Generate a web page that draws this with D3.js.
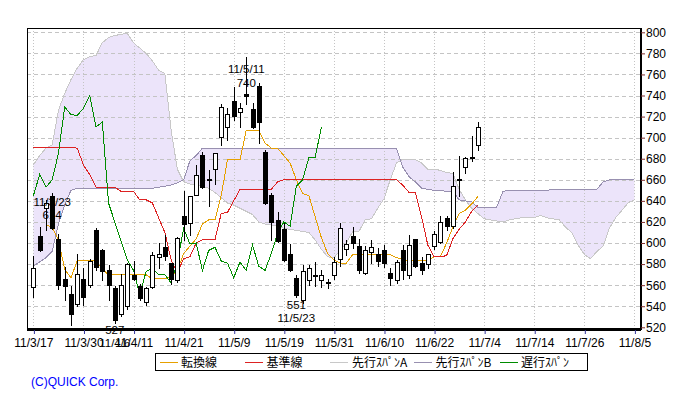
<!DOCTYPE html>
<html><head><meta charset="utf-8">
<script src="https://cdn.jsdelivr.net/npm/d3@7"></script>
<style>body{margin:0;background:#fff}svg{display:block}</style>
</head><body><svg id="c" width="680" height="400"></svg>
<script>
// ---- data ----
const tickLabels = ["11/3/17","11/3/30","11/4/11","11/4/21","11/5/9","11/5/19","11/5/31","11/6/10","11/6/22","11/7/4","11/7/14","11/7/26","11/8/5"];
const tickIndex = [0,8,16,24,32,40,48,56,64,72,80,88,96];
const yTicks = [520,540,560,580,600,620,640,660,680,700,720,740,760,780,800];

const opens  = [558,607,633,645,604,566,552,542,566,560,612,593,574,557,533,540,570,559,544,558,587,596,581,565,626,619,646,684,661,670,701,710,735,724,741,727,749,686,646,622,613,590,567,546,565,569,565,563,570,585,594,607,597,572,591,590,593,572,565,593,570,604,581,580,597,601,624,616,661,672,682,693];
const highs  = [588,615,641,647,609,577,559,590,576,585,614,594,579,559,571,581,583,561,558,591,600,608,581,606,649,645,674,686,669,685,732,728,748,733,777,733,752,688,647,629,619,599,570,579,579,582,574,566,587,619,603,615,604,597,603,595,598,576,584,598,608,604,587,590,611,626,626,667,683,682,702,715];
const lows   = [549,592,612,613,556,546,522,540,541,558,574,565,546,524,531,537,565,546,541,557,576,584,561,563,603,608,646,652,635,656,693,698,717,710,732,709,695,637,603,601,583,573,549,543,560,559,558,557,566,578,589,595,572,571,581,578,577,560,562,566,567,577,571,576,594,600,612,614,645,666,678,688];
const closes = [576,593,638,614,560,559,533,571,549,583,577,573,560,527,560,580,566,548,557,589,590,588,566,605,618,645,665,653,660,685,729,722,721,728,740,710,715,638,620,602,584,574,551,573,576,570,570,562,582,614,599,600,574,593,596,583,581,567,582,574,598,578,574,590,609,620,616,654,660,681,681,710];

const tenkan = [null,null,617,615,603,575,567,583,583,583,583,575,570,570,570,570,570,570,570,566,566,566,568,574,590,597,604,618,622,622,645,679,679,679,707,707,707,695,690,690,683,676,660,647,645,625,605,590,584,581,581,589,589,589,589,589,589,589,586,585,583,583,583,583,587,587,600,615,628,631,637,644];
const kijun  = [691,691,691,691,691,691,691,690,674,665,653,653,653,653,649,649,649,641,641,638,624,610,584,572,585,587,600,603,603,603,628,629,640,651,651,651,651,651,651,658,660,660,660,660,660,660,660,660,660,660,660,660,660,660,660,660,660,660,660,655,648,648,625,598,587,587,588,604,613,620,630,636];
const chikou = [645,665,653,660,685,729,722,721,728,740,710,715,638,620,602,584,574,551,573,576,570,570,562,582,614,599,600,574,593,596,583,581,567,582,574,598,578,574,590,609,620,616,654,660,681,681,710];
const spanA  = [674,683,690,693,726,742,755,766,774,777,778,790,795,797,798,799,790,785,780,773,764,761,707,670,658,656,655,654,652,648,643,638,636,633,630,627,620,618,617,617,614,613,612,611,610,603,594,587,586,593,600,611,611,622,623,633,642,660,676,679,679,679,676,670,670,669,667,666,651,641,633,628,623,622,621,620,622,623,624,624,624,626,624,623,622,615,610,598,589,585,592,597,614,624,631,638,641];
const spanB  = [578,582,586,592,618,636,650,652,652,652,652,652,652,652,652,652,652,652,652,652,653,654,655,657,660,678,683,690,690,690,690,690,690,690,690,690,690,690,690,690,690,690,690,690,690,690,690,690,690,690,690,690,690,690,690,690,690,690,690,672,663,658,652,651,650,650,649,649,641,640,639,634,634,634,634,649,650,650,650,650,650,650,650,651,651,651,651,651,651,651,651,658,660,660,660,660,660];

const annotIdx   = [3, 34, 13, 42];
const annotDates = ["11/3/23","11/5/11","11/4/6","11/5/23"];
const annotSide  = ["high","high","low","low"];

const legendNames  = ["転換線","基準線","先行ｽﾊﾟﾝA","先行ｽﾊﾟﾝB","遅行ｽﾊﾟﾝ"];
const legendColors = ["#e6a000","#dd2222","#c8c8c8","#9890b0","#008c00"];

// ---- layout ----
const L = 27, R = 640, T = 28, B = 329;
const svg = d3.select("#c");
const x = d3.scaleLinear().domain([0, 96]).range([33.4, 634.4]);
const y = d3.scaleLinear().domain([520, 800]).range([327.3, 32.3]);
const px = v => Math.round(v) + 0.5;
const latin = "'Liberation Sans', Arial, sans-serif";
const cjk = "'Noto Sans CJK JP', 'Liberation Sans', sans-serif";

// cloud
const cloudIdx = d3.range(spanA.length);
svg.append("path")
  .attr("d", d3.area().x(i => x(i)).y0(i => y(spanA[i])).y1(i => y(spanB[i]))(cloudIdx))
  .attr("fill", "#ece4fa");

// grid
const grid = svg.append("g").attr("shape-rendering", "crispEdges");
grid.selectAll("line.h").data(yTicks.filter(v => v > 520)).join("line")
  .attr("x1", L).attr("x2", R).attr("y1", d => px(y(d))).attr("y2", d => px(y(d)))
  .attr("stroke", "#c4c4c4").attr("stroke-dasharray", "4,3");
grid.selectAll("line.v").data(tickIndex).join("line")
  .attr("x1", d => px(x(d))).attr("x2", d => px(x(d))).attr("y1", T).attr("y2", B)
  .attr("stroke", "#c4c4c4").attr("stroke-dasharray", "1,2");

// lines
function drawLine(arr, color) {
  const pts = arr.map((v, i) => [i, v]).filter(d => d[1] != null);
  svg.append("path")
    .attr("d", d3.line().x(d => x(d[0])).y(d => y(d[1]))(pts))
    .attr("fill", "none").attr("stroke", color).attr("stroke-width", 1)
    .attr("shape-rendering", "crispEdges");
}
drawLine(spanA, legendColors[2]);
drawLine(spanB, legendColors[3]);
drawLine(tenkan, legendColors[0]);
drawLine(kijun, legendColors[1]);
drawLine(chikou, legendColors[4]);

// candles
const cg = svg.append("g").attr("shape-rendering", "crispEdges");
closes.forEach((c, i) => {
  const o = opens[i];
  const cx = px(x(i));
  cg.append("line").attr("x1", cx).attr("x2", cx)
    .attr("y1", Math.round(y(highs[i]))).attr("y2", Math.round(y(lows[i])) + 1)
    .attr("stroke", "#000");
  const top = px(y(Math.max(o, c))), bot = px(y(Math.min(o, c)));
  cg.append("rect")
    .attr("x", cx - 2).attr("width", 4)
    .attr("y", top).attr("height", Math.max(bot - top, 1))
    .attr("fill", c > o ? "#fff" : "#000").attr("stroke", "#000");
});

// annotations
const ag = svg.append("g").attr("font-family", latin).attr("font-size", 11.5)
  .attr("text-anchor", "middle").attr("fill", "#000");
annotIdx.forEach((i, k) => {
  const yy = y(closes[i]);
  const hi = annotSide[k] === "high";
  ag.append("text").attr("x", x(i)).attr("y", hi ? yy - 9 : yy + 14).text(Math.round(closes[i]));
  ag.append("text").attr("x", x(i)).attr("y", hi ? yy - 22.5 : yy + 27).text(annotDates[k]);
});

// frame
const fg = svg.append("g").attr("shape-rendering", "crispEdges");
fg.append("line").attr("x1", L).attr("x2", R + 1).attr("y1", T + 0.5).attr("y2", T + 0.5).attr("stroke", "#000");
fg.append("line").attr("x1", L + 0.5).attr("x2", L + 0.5).attr("y1", T).attr("y2", B).attr("stroke", "#000");
fg.append("line").attr("x1", R + 0.5).attr("x2", R + 0.5).attr("y1", T).attr("y2", B + 1).attr("stroke", "#000").attr("stroke-width", 2);
fg.append("line").attr("x1", L).attr("x2", R + 1).attr("y1", B).attr("y2", B).attr("stroke", "#000").attr("stroke-width", 3);

// axes
const xa = svg.append("g").attr("transform", `translate(0,${B + 1})`)
  .call(d3.axisBottom(x).tickValues(tickIndex).tickFormat((d, i) => tickLabels[i]).tickSize(4).tickPadding(4));
xa.select(".domain").remove();
xa.selectAll("line").attr("stroke", "#333399").attr("transform", "translate(0.5,0)");
xa.selectAll("text").attr("font-family", latin).attr("font-size", 12).attr("fill", "#000");

const ya = svg.append("g").attr("transform", `translate(${R + 1},0)`)
  .call(d3.axisRight(y).tickValues(yTicks).tickSize(4).tickPadding(1));
ya.select(".domain").remove();
ya.selectAll("line").attr("stroke", "#803030");
ya.selectAll("text").attr("font-family", latin).attr("font-size", 12).attr("fill", "#000");

// legend
const lg = svg.append("g");
lg.append("rect").attr("x", 155.5).attr("y", 353.5).attr("width", 432).attr("height", 17)
  .attr("fill", "#fff").attr("stroke", "#000").attr("shape-rendering", "crispEdges");
const legX = [159.6, 245, 330.4, 414.1, 499.6];
legendNames.forEach((n, k) => {
  lg.append("line").attr("x1", legX[k]).attr("x2", legX[k] + 18).attr("y1", 362.5).attr("y2", 362.5)
    .attr("stroke", legendColors[k]).attr("stroke-width", 1).attr("shape-rendering", "crispEdges");
  lg.append("text").attr("x", legX[k] + 21.5).attr("y", 367).attr("font-family", cjk)
    .attr("font-size", 12).attr("fill", "#000").text(n);
});

svg.append("text").attr("x", 31).attr("y", 386).attr("font-family", latin).attr("font-size", 12)
  .attr("fill", "#0000ff").text("(C)QUICK Corp.");
</script></body></html>
